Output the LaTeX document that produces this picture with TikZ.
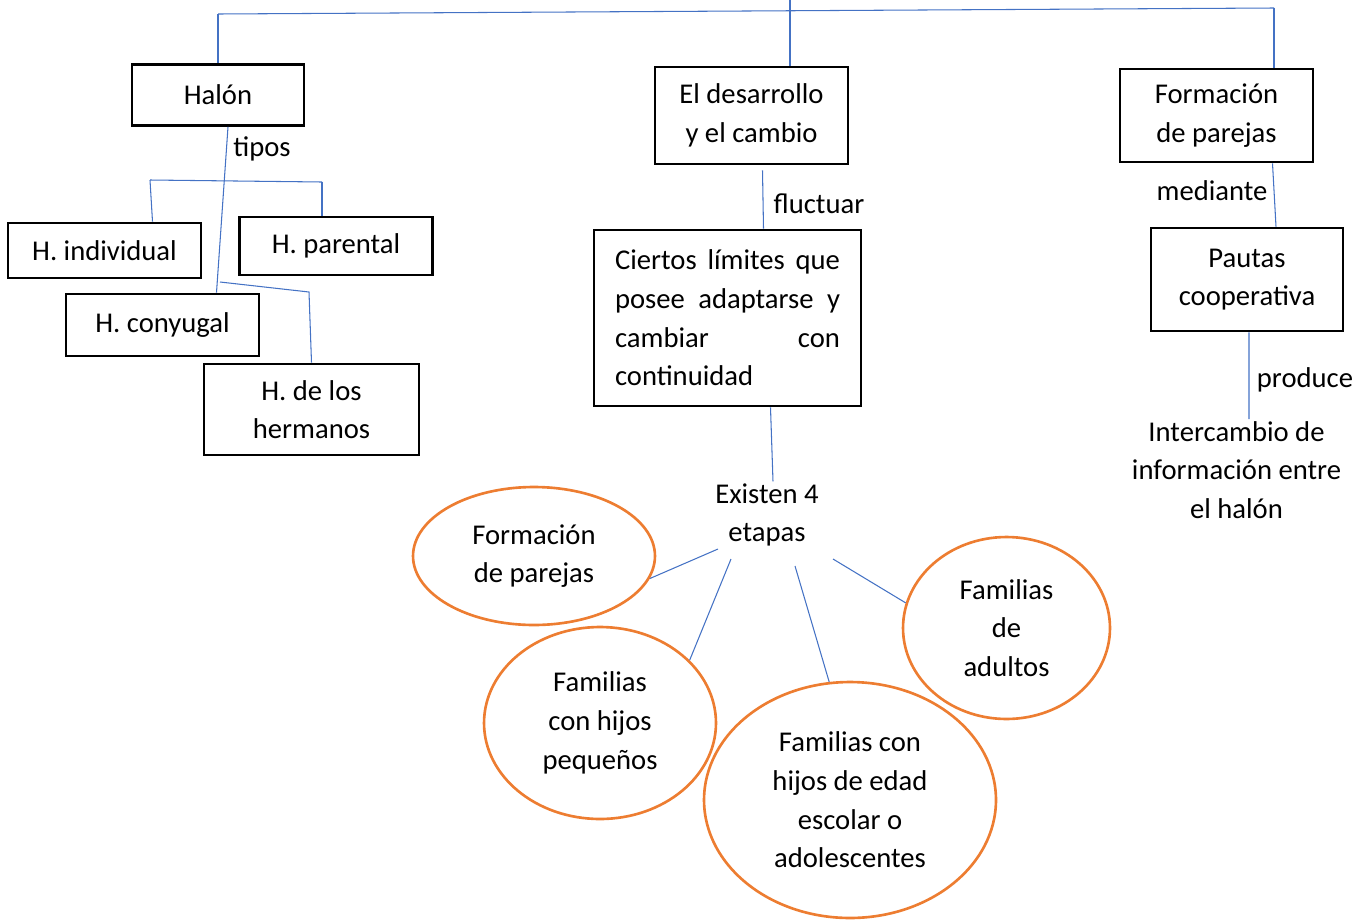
\documentclass[tikz,border=0pt]{standalone}
\usepackage{fontspec}
\setmainfont{Carlito}
\usetikzlibrary{shapes.geometric,calc}
\definecolor{linkblue}{HTML}{4472C4}
\definecolor{stageorange}{HTML}{ED7D31}
\tikzset{
  box/.style={draw, line width=1.6pt, align=center, inner sep=0pt},
  bubble/.style={draw=stageorange, ellipse, line width=1.5pt, align=center, inner sep=0pt},
  link/.style={linkblue, line width=0.6pt},
  lbl/.style={align=center, inner sep=1pt},
}
\begin{document}
\begin{tikzpicture}[x=0.02cm, y=-0.02cm, font=\fontsize{16.3}{22}\selectfont]
    \useasboundingbox (0,0) rectangle (1362,920);
    % halon and its types
    \node[box, minimum width=3.44cm, minimum height=1.22cm] (halon) at (218,95) {Halón};
    \node[box, minimum width=3.86cm, minimum height=1.10cm] (indiv) at (104.5,250.5) {H. individual};
    \node[box, minimum width=3.86cm, minimum height=1.16cm] (parental) at (336,246) {H. parental};
    \node[box, minimum width=3.86cm, minimum height=1.24cm] (conyugal) at (162.5,325) {H. conyugal};
    \node[box, minimum width=4.30cm, minimum height=1.82cm] (hermanos) at (311.5,409.5) {H. de los\\hermanos};
    % middle column
    \node[box, minimum width=3.86cm, minimum height=1.94cm] (desarrollo) at (751.5,115.5) {El desarrollo\\y el cambio};
    \node[box, minimum width=5.34cm, minimum height=3.52cm, text width=4.5cm, align=left] (ciertos) at (727.5,318)
        {Ciertos\hfill límites\hfill que\\posee\hfill adaptarse\hfill y\\cambiar\hfill con\\continuidad};
    \node[lbl] (existen) at (767,515) {Existen 4\\etapas};
    % right column
    \node[box, minimum width=3.86cm, minimum height=1.86cm] (formacion) at (1216.5,115.5) {Formación\\de parejas};
    \node[box, minimum width=3.84cm, minimum height=2.06cm] (pautas) at (1247,279.5) {Pautas\\cooperativa};
    \node[lbl] (inter) at (1236.5,470) {Intercambio de\\información entre\\el halón};
    % stages
    \node[bubble, minimum width=4.84cm, minimum height=2.76cm] (e1) at (534,556) {Formación\\de parejas};
    \node[bubble, minimum width=4.64cm, minimum height=3.84cm] (e2) at (600,723) {Familias\\con hijos\\pequeños};
    \node[bubble, minimum width=5.84cm, minimum height=4.72cm] (e3) at (850,800) {Familias con\\hijos de edad\\escolar o\\adolescentes};
    \node[bubble, minimum width=4.14cm, minimum height=3.64cm] (e4) at (1006.5,628) {Familias\\de\\adultos};
    % link words
    \node[lbl] (tipos) at (262,149) {tipos};
    \node[lbl] (fluctuar) at (819,204) {fluctuar};
    \node[lbl] (mediante) at (1212,191) {mediante};
    \node[lbl] (produce) at (1305,380) {produce};
    % top bar
    \coordinate (busL) at (218,14);
    \coordinate (busR) at (1274,8);
    \coordinate (topM) at (790,0);
    \draw[link] (busL) -- (busR);
    \draw[link] (busL) -- (halon.north);
    \draw[link] (topM) -- (topM |- desarrollo.north);
    \draw[link] (busR) -- (busR |- formacion.north);
    % halon links
    \coordinate (brL) at (150,180);
    \coordinate (brR) at (322,182);
    \coordinate (hk) at (220,282);
    \coordinate (hb) at (309,292);
    \draw[link] ($(halon.south)+(10,0)$) -- ($(conyugal.north)+(54,0)$);
    \draw[link] (brL) -- (brR);
    \draw[link] (brL) -- ($(indiv.north)+(48,0)$);
    \draw[link] (brR) -- ($(parental.north)+(-14,0)$);
    \draw[link] (hk) -- (hb) -- (hermanos.north);
    % middle links
    \draw[link] ($(desarrollo.south)+(11,5)$) -- ($(ciertos.north)+(36,0)$);
    \draw[link] ($(ciertos.south)+(43,0)$) -- ($(existen.north)+(6,0)$);
    \draw[link] ($(existen.center)+(-49,34)$) -- (e1.-11);
    \draw[link] ($(existen.center)+(-36,44)$) -- (e2.35);
    \draw[link] ($(existen.center)+(28,51)$) -- (e3.100);
    \draw[link] ($(existen.center)+(66,44)$) -- (e4.166);
    % right links
    \draw[link] ($(formacion.south)+(56,0)$) -- ($(pautas.north)+(29,0)$);
    \draw[link] ($(pautas.south)+(2,0)$) -- ($(inter.north)+(12.5,0)$);
\end{tikzpicture}
\end{document}
